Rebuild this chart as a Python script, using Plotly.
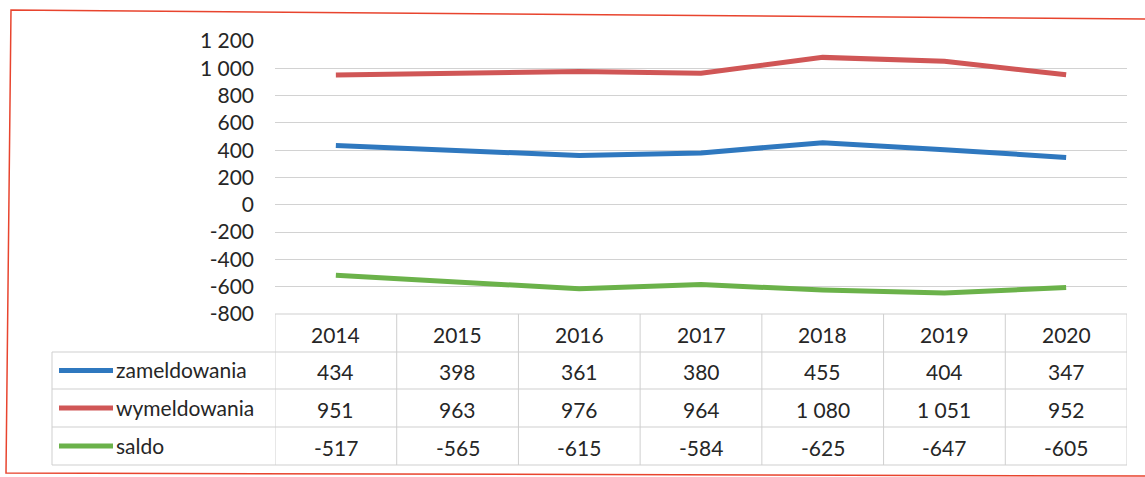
import plotly.graph_objects as go

years = ["2014", "2015", "2016", "2017", "2018", "2019", "2020"]
series_names = ["zameldowania", "wymeldowania", "saldo"]
zameldowania = [434, 398, 361, 380, 455, 404, 347]
wymeldowania = [951, 963, 976, 964, 1080, 1051, 952]
saldo = [-517, -565, -615, -584, -625, -647, -605]
y_ticks = [-800, -600, -400, -200, 0, 200, 400, 600, 800, 1000, 1200]

series_values = [zameldowania, wymeldowania, saldo]
colors = ["#2f78bf", "#d05656", "#6bb24a"]

W, H = 1145, 477
L, R, T, B = 275, 1127, 41, 314
FONT = "Lato"
FS = 21
TXT = "#262626"
GRID = "#d2d2d2"


def fmt(v):
    return f"{v:,}".replace(",", " ")


def xp(px):
    return (px - L) / (R - L)


def yp(py):
    return (B - py) / (B - T)


fig = go.Figure()
for name, vals, c in zip(series_names, series_values, colors):
    fig.add_trace(go.Scatter(x=years, y=vals, mode="lines", name=name,
                             line=dict(color=c, width=5), showlegend=False))

shapes = []
annotations = []
line_style = dict(color="#cfcfcf", width=1)

# table horizontal lines
row_edges = [352, 389, 427, 465]
shapes.append(dict(type="line", xref="paper", yref="paper", x0=0, x1=1,
                   y0=yp(B), y1=yp(B), line=line_style))
for ry in row_edges:
    shapes.append(dict(type="line", xref="paper", yref="paper", x0=xp(52), x1=1,
                       y0=yp(ry), y1=yp(ry), line=line_style))
# vertical lines
shapes.append(dict(type="line", xref="paper", yref="paper", x0=xp(52), x1=xp(52),
                   y0=yp(row_edges[0]), y1=yp(row_edges[-1]), line=line_style))
for k in range(len(years) + 1):
    shapes.append(dict(type="line", xref="x", yref="paper", x0=k - 0.5, x1=k - 0.5,
                       y0=yp(B), y1=yp(row_edges[-1]), line=line_style))

# header
for k, yr in enumerate(years):
    annotations.append(dict(x=k, y=yp((B + row_edges[0]) / 2 + 1), xref="x", yref="paper",
                            text=yr, showarrow=False, xanchor="center", yanchor="middle",
                            font=dict(family=FONT, size=FS, color=TXT)))
# rows
for i, (name, vals, c) in enumerate(zip(series_names, series_values, colors)):
    cy = (row_edges[i] + row_edges[i + 1]) / 2
    shapes.append(dict(type="line", xref="paper", yref="paper", x0=xp(59), x1=xp(113),
                       y0=yp(cy), y1=yp(cy), line=dict(color=c, width=5)))
    annotations.append(dict(x=xp(114), y=yp(cy - 1), xref="paper", yref="paper", text=name,
                            showarrow=False, xanchor="left", yanchor="middle",
                            font=dict(family=FONT, size=FS, color=TXT)))
    for k, v in enumerate(vals):
        annotations.append(dict(x=k, y=yp(cy + 1), xref="x", yref="paper", text=fmt(v),
                                showarrow=False, xanchor="center", yanchor="middle",
                                font=dict(family=FONT, size=FS, color=TXT)))

# scan frame
shapes.append(dict(type="path", xref="paper", yref="paper",
                   path=f"M {xp(1145)},{yp(19)} L {xp(11)},{yp(10)} L {xp(6)},{yp(473)} L {xp(1145)},{yp(476)}",
                   line=dict(color="#e8442e", width=1.5)))

fig.update_layout(
    width=W, height=H,
    margin=dict(l=L, r=W - R, t=T, b=H - B),
    paper_bgcolor="white", plot_bgcolor="white",
    shapes=shapes, annotations=annotations,
    font=dict(family=FONT, size=FS, color=TXT),
)
fig.update_xaxes(type="category", range=[-0.5, len(years) - 0.5], showticklabels=False,
                 showgrid=False, zeroline=False, showline=False)
fig.update_yaxes(range=[-800, 1200], tickvals=y_ticks, ticktext=[fmt(v) for v in y_ticks],
                 showgrid=True, gridcolor=GRID, gridwidth=1, zeroline=False, showline=False,
                 ticklabelstandoff=20, tickfont=dict(family=FONT, size=FS, color=TXT))

fig.write_html("out.html", config={"displayModeBar": False},
               post_script="document.body.style.margin='0';")
